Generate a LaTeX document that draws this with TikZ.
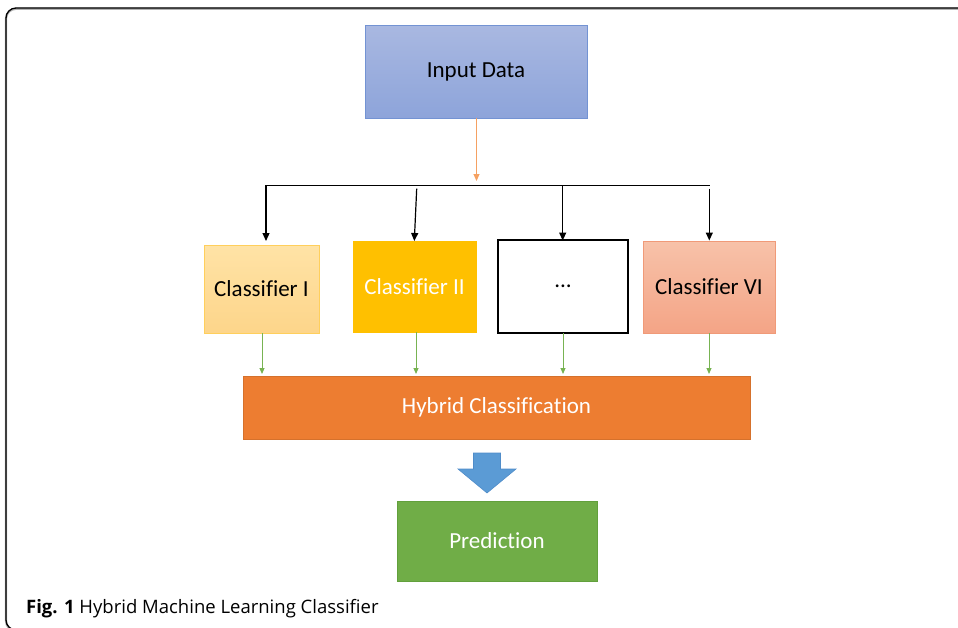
\documentclass[tikz,border=0pt]{standalone}
\usepackage{fontspec}
\setmainfont[Ligatures=NoCommon]{Carlito}
\newfontfamily\capfont{Open Sans}
\usetikzlibrary{arrows.meta}
\definecolor{inTop}{HTML}{A9B8E1}
\definecolor{inBot}{HTML}{8DA4DA}
\definecolor{inBorder}{HTML}{7393D3}
\definecolor{cOneTop}{HTML}{FFE3A6}
\definecolor{cOneBot}{HTML}{FDD58A}
\definecolor{cOneBorder}{HTML}{FFCF5C}
\definecolor{cTwo}{HTML}{FFC000}
\definecolor{cSixTop}{HTML}{F7C2A9}
\definecolor{cSixBot}{HTML}{F4A486}
\definecolor{cSixBorder}{HTML}{F09A78}
\definecolor{hyb}{HTML}{ED7D31}
\definecolor{pred}{HTML}{70AD47}
\definecolor{predBorder}{HTML}{62A03C}
\definecolor{blk}{HTML}{5B9BD5}
\definecolor{blkBorder}{HTML}{4F8CC9}
\definecolor{orArrow}{HTML}{F5A162}
\definecolor{grArrow}{HTML}{78B352}
\tikzset{
  boxbase/.style={rectangle, inner sep=0pt, font=\fontsize{23}{27}\selectfont, line width=0.9pt},
  blackarrow/.style={line width=1.2pt, -{Triangle[width=7pt,length=8pt]}},
  orangearrow/.style={draw=orArrow, line width=1pt, -{Triangle[width=6pt,length=7pt]}},
  greenarrow/.style={draw=grArrow, line width=1pt, -{Triangle[width=5pt,length=6pt]}},
}
\begin{document}
\begin{tikzpicture}[x=1pt,y=-1pt]
\useasboundingbox (0,0) rectangle (958,627);
% frame
\draw[line width=2.2pt, black!30, rounded corners=10pt] (6,8.8) rectangle (1000,631);
\draw[line width=1.3pt, black, rounded corners=10pt] (6,8) rectangle (1000,630);
% nodes
\node[boxbase, draw=inBorder, top color=inTop, bottom color=inBot, minimum width=222pt, minimum height=93pt] (input) at (476,71.5) {Input Data};
\node[boxbase, draw=cOneBorder, top color=cOneTop, bottom color=cOneBot, minimum width=115pt, minimum height=88pt] (c1) at (261.5,289) {Classifier I};
\node[boxbase, draw=cTwo, fill=cTwo, text=white, minimum width=123pt, minimum height=91pt] (c2) at (414.5,286.5) {Classifier II};
\node[boxbase, draw=black, fill=white, line width=1.1pt, minimum width=130pt, minimum height=93pt] (c3) at (563,286.5) {...};
\node[boxbase, draw=cSixBorder, top color=cSixTop, bottom color=cSixBot, minimum width=132pt, minimum height=92pt] (c4) at (709,287) {Classifier VI};
\node[boxbase, draw=hyb!90!black, fill=hyb, text=white, minimum width=507pt, minimum height=63pt] (hyb) at (496.5,407.5) {Hybrid Classification};
\node[boxbase, draw=predBorder, fill=pred, text=white, minimum width=200pt, minimum height=80pt] (pred) at (497,541) {Prediction};
% branch line
\coordinate (bl) at (265,185.3);
\coordinate (br) at (709.5,185.3);
\coordinate (bin) at (476.5,181);
\draw[orangearrow] (input.south -| bin) -- (bin);
\draw[line width=1.2pt] (bl) -- (br);
\coordinate (a1) at (266,185.3);
\coordinate (a2) at (416.7,188.7);
\coordinate (a3) at (562.7,185.3);
\coordinate (a4) at (709.3,188.7);
\coordinate (t1) at (266,241);
\coordinate (t2) at (414.3,241);
\coordinate (t3) at (562.7,240.5);
\coordinate (t4) at (709.3,240.5);
\draw[blackarrow] (a1) -- (t1);
\draw[blackarrow] (a2) -- (t2);
\draw[blackarrow] (a3) -- (t3);
\draw[blackarrow] (a4) -- (t4);
% green arrows
\draw[greenarrow] (262,333) -- (262,374);
\draw[greenarrow] (416,332) -- (416,374);
\draw[greenarrow] (563,333) -- (563,374);
\draw[greenarrow] (709,333) -- (709,374);
% block arrow
\draw[fill=blk, draw=blkBorder, line width=0.6pt] (473.5,453) -- (500.5,453) -- (500.5,469) -- (516,469) -- (487,493) -- (458,469) -- (473.5,469) -- cycle;
% caption
\node[anchor=base west, inner sep=0pt, font=\capfont\fontsize{18.5}{21}\selectfont] (cap) at (26,613) {\textbf{Fig. 1} Hybrid Machine Learning Classifier};
\end{tikzpicture}
\end{document}
